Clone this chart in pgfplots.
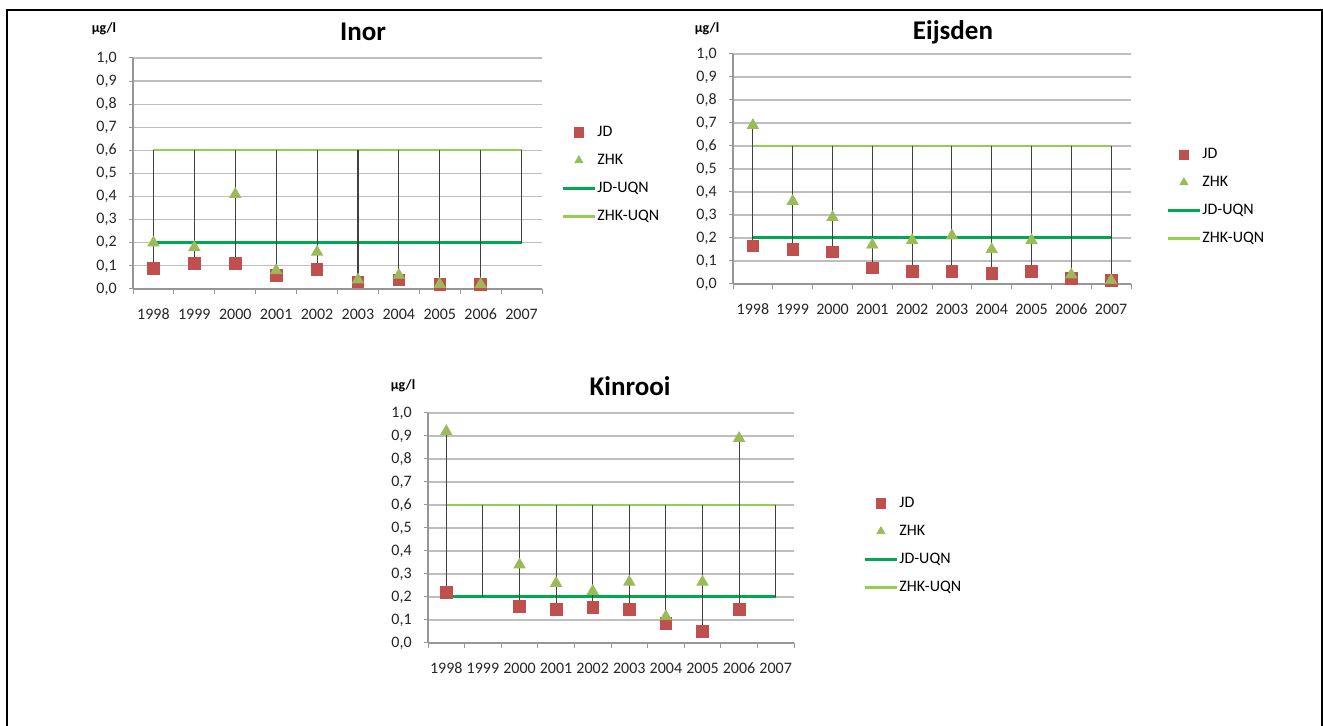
\documentclass[border=0pt]{standalone}
\usepackage{fontspec}
\setmainfont{Carlito}
\usepackage{pgfplots}
\pgfplotsset{compat=1.18}
\definecolor{jdred}{RGB}{192,80,77}
\definecolor{zhkgreen}{RGB}{155,187,89}
\definecolor{jduqn}{RGB}{0,168,80}
\definecolor{zhkuqn}{RGB}{146,208,80}
\definecolor{gridgray}{RGB}{190,190,190}
\definecolor{axisgray}{RGB}{150,150,150}
\pgfplotsset{
  excelchart/.style={
    scale only axis,
    anchor=south west,
    xmin=-0.5, xmax=9.5, ymin=0, ymax=1,
    axis x line*=bottom, axis y line*=left,
    axis line style={-, draw=axisgray, line width=0.6pt},
    xtick={0,...,9},
    xticklabels={1998,1999,2000,2001,2002,2003,2004,2005,2006,2007},
    minor xtick={-0.5,0.5,...,9.5},
    ytick={0,0.1,0.2,0.3,0.4,0.5,0.6,0.7,0.8,0.9,1},
    tick align=outside,
    major tick length=2pt, minor tick length=2.5pt,
    major x tick style={draw=none},
    tick style={axisgray, line width=0.5pt},
    ymajorgrids, major grid style={gridgray, line width=0.6pt},
    tick label style={font=\fontsize{8}{9.6}\selectfont, text=black!85},
    yticklabel style={anchor=east, inner sep=0pt,
      /pgf/number format/use comma, /pgf/number format/fixed,
      /pgf/number format/fixed zerofill, /pgf/number format/precision=1,
      /pgf/number format/assume math mode=true},
    yticklabel shift=6pt,
    xticklabel style={anchor=north, inner sep=0pt, text height=5.1pt, text depth=0pt},
    xticklabel shift=8pt,
    unbounded coords=jump,
    legend cell align=left,
    legend image code/.code={\draw[mark repeat=2,mark phase=2,##1] plot coordinates {(0pt,0pt)(8pt,0pt)(16pt,0pt)};},
    legend image post style={mark size=2.3pt},
    legend style={draw=none, fill=none, anchor=north west, inner sep=0pt, row sep=7pt,
      font=\fontsize{8}{9.6}\selectfont,
      nodes={inner xsep=0.5pt, inner ysep=0pt, text height=5.5pt, text depth=1.5pt}},
  },
  jdmark/.style={only marks, mark=square*, mark size=2.9pt, mark options={draw=jdred, fill=jdred}},
  zhkmark/.style={only marks, mark=triangle*, mark size=3.2pt, mark options={draw=zhkgreen, fill=zhkgreen}},
  jdline/.style={draw=jduqn, line width=1.5pt, no marks},
  zhkline/.style={draw=zhkuqn, line width=1.1pt, no marks},
  hilo/.style={draw=black!75, line width=0.55pt, no marks},
}
\begin{document}
\begin{tikzpicture}[x=0.5pt,y=0.5pt]
\useasboundingbox (0,0) rectangle (1323,726);
\draw[line width=1pt] (7,-10) -- (7,716) -- (1321.8,716) -- (1321.8,-10);

% ---------- Inor ----------
\begin{axis}[excelchart, at={(66.5pt,218.5pt)}, width=204.5pt, height=115.5pt,
  legend style={at={(1.0465,0.7095)}}]
\addlegendimage{jdmark}
\addlegendimage{zhkmark}
\addlegendimage{jdline}
\addlegendimage{zhkline}
\legend{JD,ZHK,JD-UQN,ZHK-UQN}
\addplot[jdline, forget plot] coordinates {(0,0.2)(9,0.2)};
\addplot[zhkline, forget plot] coordinates {(0,0.6)(9,0.6)};
\addplot[hilo, forget plot] coordinates {
 (0,0.6)(0,0.09)(0,nan)
 (1,0.6)(1,0.11)(1,nan)
 (2,0.6)(2,0.11)(2,nan)
 (3,0.6)(3,0.06)(3,nan)
 (4,0.6)(4,0.085)(4,nan)
 (5,0.6)(5,0.03)(5,nan)
 (6,0.6)(6,0.04)(6,nan)
 (7,0.6)(7,0.02)(7,nan)
 (8,0.6)(8,0.02)(8,nan)
 (9,0.6)(9,0.2)};
\addplot[jdmark, forget plot] coordinates {(0,0.09)(1,0.11)(2,0.11)(3,0.06)(4,0.085)(5,0.03)(6,0.04)(7,0.02)(8,0.02)};
\addplot[zhkmark, forget plot] coordinates {(0,0.2)(1,0.18)(2,0.41)(3,0.08)(4,0.16)(5,0.04)(6,0.06)(7,0.02)(8,0.02)};
\end{axis}

% ---------- Eijsden ----------
\begin{axis}[excelchart, at={(366.5pt,221pt)}, width=199pt, height=115pt,
  legend style={at={(1.088,0.595)}}]
\addlegendimage{jdmark}
\addlegendimage{zhkmark}
\addlegendimage{jdline}
\addlegendimage{zhkline}
\legend{JD,ZHK,JD-UQN,ZHK-UQN}
\addplot[jdline, forget plot] coordinates {(0,0.2)(9,0.2)};
\addplot[zhkline, forget plot] coordinates {(0,0.6)(9,0.6)};
\addplot[hilo, forget plot] coordinates {
 (0,0.69)(0,0.165)(0,nan)
 (1,0.6)(1,0.15)(1,nan)
 (2,0.6)(2,0.14)(2,nan)
 (3,0.6)(3,0.07)(3,nan)
 (4,0.6)(4,0.055)(4,nan)
 (5,0.6)(5,0.055)(5,nan)
 (6,0.6)(6,0.045)(6,nan)
 (7,0.6)(7,0.055)(7,nan)
 (8,0.6)(8,0.025)(8,nan)
 (9,0.6)(9,0.015)};
\addplot[jdmark, forget plot] coordinates {(0,0.165)(1,0.15)(2,0.14)(3,0.07)(4,0.055)(5,0.055)(6,0.045)(7,0.055)(8,0.025)(9,0.015)};
\addplot[zhkmark, forget plot] coordinates {(0,0.69)(1,0.36)(2,0.29)(3,0.17)(4,0.19)(5,0.21)(6,0.15)(7,0.19)(8,0.04)(9,0.015)};
\end{axis}

% ---------- Kinrooi ----------
\begin{axis}[excelchart, at={(214pt,41.5pt)}, width=183pt, height=115pt,
  legend style={at={(1.1885,0.639)}}]
\addlegendimage{jdmark}
\addlegendimage{zhkmark}
\addlegendimage{jdline}
\addlegendimage{zhkline}
\legend{JD,ZHK,JD-UQN,ZHK-UQN}
\addplot[jdline, forget plot] coordinates {(0,0.2)(9,0.2)};
\addplot[zhkline, forget plot] coordinates {(0,0.6)(9,0.6)};
\addplot[hilo, forget plot] coordinates {
 (0,0.92)(0,0.2)(0,nan)
 (1,0.6)(1,0.2)(1,nan)
 (2,0.6)(2,0.16)(2,nan)
 (3,0.6)(3,0.145)(3,nan)
 (4,0.6)(4,0.155)(4,nan)
 (5,0.6)(5,0.145)(5,nan)
 (6,0.6)(6,0.085)(6,nan)
 (7,0.6)(7,0.05)(7,nan)
 (8,0.89)(8,0.145)(8,nan)
 (9,0.6)(9,0.2)};
\addplot[jdmark, forget plot] coordinates {(0,0.22)(2,0.16)(3,0.145)(4,0.155)(5,0.145)(6,0.085)(7,0.05)(8,0.145)};
\addplot[zhkmark, forget plot] coordinates {(0,0.92)(2,0.34)(3,0.26)(4,0.225)(5,0.265)(6,0.115)(7,0.265)(8,0.89)};
\end{axis}

% titles and units
\node[anchor=base, font=\fontsize{13.5}{16}\selectfont\bfseries] at (363,685) {Inor};
\node[anchor=base, font=\fontsize{13.5}{16}\selectfont\bfseries] at (953,686) {Eijsden};
\node[anchor=base, font=\fontsize{13.5}{16}\selectfont\bfseries] at (630,330) {Kinrooi};
\node[anchor=base, font=\fontsize{7}{8.4}\selectfont\bfseries] at (104,693) {µg/l};
\node[anchor=base, font=\fontsize{7}{8.4}\selectfont\bfseries] at (707,693) {µg/l};
\node[anchor=base, font=\fontsize{7}{8.4}\selectfont\bfseries] at (403,336) {µg/l};
\end{tikzpicture}
\end{document}
